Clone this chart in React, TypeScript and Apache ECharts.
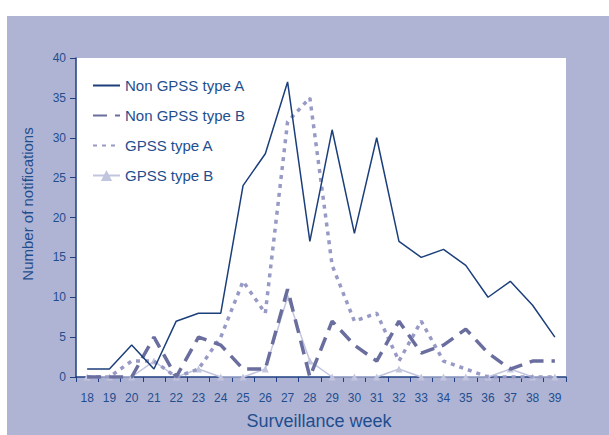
import React, { useEffect, useRef } from "react";
import * as echarts from "echarts";

const weeks = ["18","19","20","21","22","23","24","25","26","27","28","29","30","31","32","33","34","35","36","37","38","39"];
const nonGpssA = [1,1,4,1,7,8,8,24,28,37,17,31,18,30,17,15,16,14,10,12,9,5];
const nonGpssB = [0,0,0,5,0,5,4,1,1,11,0,7,4,2,7,3,4,6,3,1,2,2];
const gpssA = [0,0,2,2,0,1,5,12,8,32,35,14,7,8,2,7,2,1,0,0,0,0];
const gpssB = [0,0,0,2,0,1,0,0,1,10,2,0,0,0,1,0,0,0,0,1,0,0];
const seriesNames = ["Non GPSS type A", "Non GPSS type B", "GPSS type A", "GPSS type B"];

const TXT = "#1f4e8f";
const AXIS = "#1f3f80";
const FONT = "Liberation Sans, Arial, sans-serif";

export default function App() {
  const ref = useRef<HTMLDivElement>(null);
  useEffect(() => {
    if (!ref.current) return;
    const chart = echarts.init(ref.current, null, { renderer: "svg" });
    const hidden = { color: "transparent", borderWidth: 0, opacity: 0 };
    chart.setOption({
      animation: false,
      textStyle: { fontFamily: FONT },
      graphic: [
        { type: "rect", z: -10, silent: true, shape: { x: 7, y: 16, width: 602, height: 419 }, style: { fill: "#b0b4d4" } },
        { type: "text", x: 27, y: 204, rotation: Math.PI / 2, style: { text: "Number of notifications", fill: TXT, font: `15px ${FONT}`, align: "center", verticalAlign: "middle" } },
        { type: "text", x: 319, y: 421, style: { text: "Surveillance week", fill: TXT, font: `18px ${FONT}`, align: "center", verticalAlign: "middle" } },
      ],
      grid: { left: 76, right: 43, top: 58, bottom: 58, show: true, backgroundColor: "#ffffff", borderWidth: 0 },
      legend: {
        orient: "vertical",
        left: 92,
        top: 78,
        padding: 0,
        itemWidth: 27,
        itemHeight: 14,
        itemGap: 15,
        data: [
          { name: seriesNames[0], itemStyle: hidden },
          { name: seriesNames[1], itemStyle: hidden },
          { name: seriesNames[2], itemStyle: hidden },
          { name: seriesNames[3] },
        ],
        textStyle: { color: TXT, fontSize: 15, fontFamily: FONT },
      },
      xAxis: {
        type: "category",
        data: weeks,
        boundaryGap: true,
        axisLine: { lineStyle: { color: AXIS, width: 1.5 } },
        axisTick: { show: true, inside: false, length: 5, alignWithLabel: false, lineStyle: { color: AXIS } },
        axisLabel: { color: TXT, fontSize: 12, margin: 15, interval: 0 },
        splitLine: { show: false },
      },
      yAxis: {
        type: "value",
        min: 0,
        max: 40,
        interval: 5,
        axisLine: { show: true, lineStyle: { color: AXIS, width: 1.5 } },
        axisTick: { show: true, inside: false, length: 6, lineStyle: { color: AXIS } },
        axisLabel: { color: TXT, fontSize: 12, margin: 10 },
        splitLine: { show: false },
      },
      series: [
        {
          name: seriesNames[0], type: "line", data: nonGpssA, z: 5, symbol: "none",
          lineStyle: { color: "#1c3f7c", width: 1.5 }, itemStyle: { color: "#1c3f7c" },
        },
        {
          name: seriesNames[1], type: "line", data: nonGpssB, z: 4, symbol: "none",
          lineStyle: { color: "#6a6e9e", width: 3.5, type: [14, 8], cap: "butt" }, itemStyle: { color: "#6a6e9e" },
        },
        {
          name: seriesNames[2], type: "line", data: gpssA, z: 3, symbol: "none",
          lineStyle: { color: "#989ac6", width: 3.5, type: [4, 5], cap: "butt" }, itemStyle: { color: "#989ac6" },
        },
        {
          name: seriesNames[3], type: "line", data: gpssB, z: 2, symbol: "triangle", symbolSize: 7,
          lineStyle: { color: "#c2c5de", width: 1.5 }, itemStyle: { color: "#c2c5de" },
        },
      ],
    });
    return () => chart.dispose();
  }, []);
  return <div ref={ref} style={{ position: "fixed", left: 0, top: 0, width: 609, height: 435, background: "#ffffff" }} />;
}
